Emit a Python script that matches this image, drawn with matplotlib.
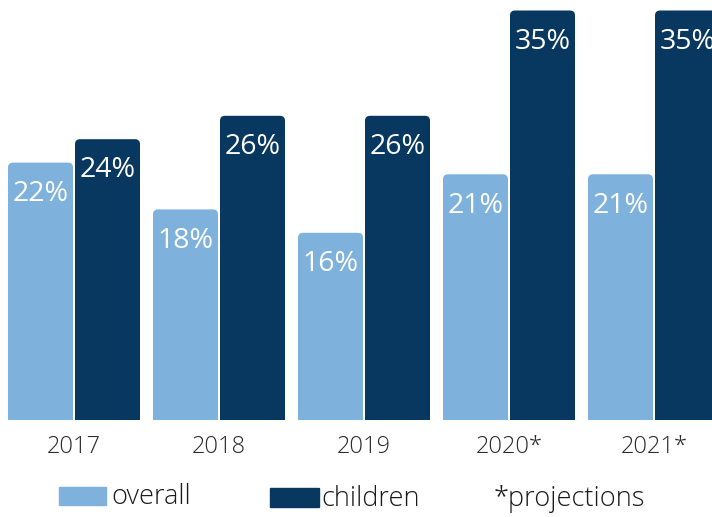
import matplotlib.pyplot as plt
from matplotlib.patches import FancyBboxPatch, Rectangle

years = ["2017", "2018", "2019", "2020*", "2021*"]
overall = [22, 18, 16, 21, 21]
children = [24, 26, 26, 35, 35]

light = "#7EB1DB"
dark = "#08375F"

W, H = 712, 517
fig = plt.figure(figsize=(W / 100, H / 100), dpi=100)
# axes spans full width, bottom at 420 px from the top
ax = fig.add_axes([0, (H - 420) / H, 1, 420 / H])

px_x = 145.0   # px per category
px_y = 11.7    # px per percent
ax.set_xlim(-74 / px_x, (W - 74) / px_x)
ax.set_ylim(0, 420 / px_y)

bw = 65 / px_x
off = 33.5 / px_x
xs = list(range(len(years)))

bars1 = ax.bar([x - off for x in xs], overall, width=bw, color=light)
bars2 = ax.bar([x + off for x in xs], children, width=bw, color=dark)

# swap the plain rectangles for ones with rounded top corners
r = 5 / px_x
aspect = px_x / px_y
for bars in (bars1, bars2):
    for b in bars:
        x0, y0, w, h = b.get_x(), b.get_y(), b.get_width(), b.get_height()
        b.set_visible(False)
        rb = FancyBboxPatch((x0, y0 - 2), w, h + 2,
                            boxstyle=f"round,pad=0,rounding_size={r}",
                            mutation_aspect=aspect,
                            facecolor=b.get_facecolor(), edgecolor="none")
        ax.add_patch(rb)
        ax.annotate(f"{h:g}%", (x0 + w / 2, h), xytext=(0, -22.5),
                    textcoords="offset points", ha="center", va="center",
                    color="white", fontsize=20.5, fontfamily="Open Sans")

ax.set_xticks(xs)
ax.set_xticklabels(years, fontsize=17, color="#2a2a2a", fontfamily="Open Sans",
                   fontweight="light")
ax.tick_params(axis="x", length=0, pad=11)
ax.set_yticks([])
for s in ax.spines.values():
    s.set_visible(False)

# legend row
def fx(p):
    return p / W

def fy(p):
    return 1 - p / H

fig.add_artist(Rectangle((fx(59), fy(505)), fx(47), 18 / H, color=light,
                         transform=fig.transFigure))
fig.add_artist(Rectangle((fx(270), fy(507)), fx(49), 19 / H, color=dark,
                         transform=fig.transFigure))
leg_kw = dict(fontsize=19.5, color="#1a1a1a", fontfamily="Open Sans",
              fontweight="light", va="center", ha="left")
fig.text(fx(111), fy(497), "overall", **leg_kw)
fig.text(fx(321), fy(499), "children", **leg_kw)
fig.text(fx(494), fy(499), "*projections", **leg_kw)

fig.savefig("out.png", dpi=100)
